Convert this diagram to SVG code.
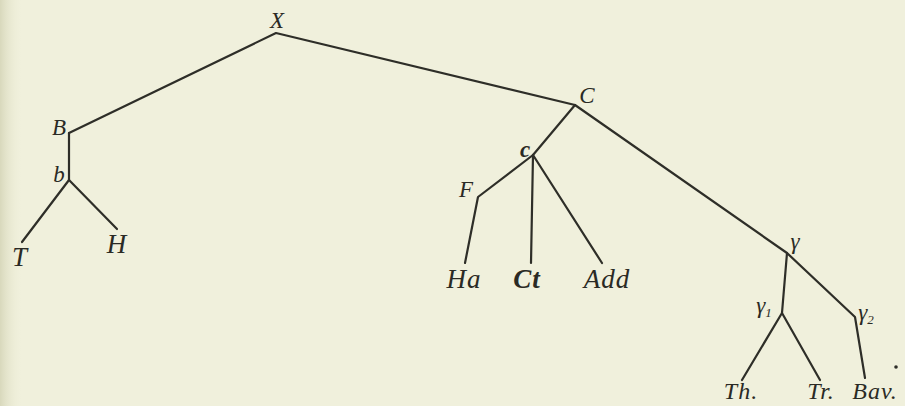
<svg xmlns="http://www.w3.org/2000/svg" width="905" height="406" viewBox="0 0 905 406">
<defs>
<linearGradient id="edge" x1="0" y1="0" x2="1" y2="0">
<stop offset="0" stop-color="#d8d8bc"/>
<stop offset="1" stop-color="#efefd9" stop-opacity="0"/>
</linearGradient>
<style>
.e{stroke:#2e2e28;stroke-width:2.2;fill:none;stroke-linecap:round;stroke-linejoin:round}
.t{font-family:"Liberation Serif","DejaVu Serif",serif;font-style:italic;font-size:23px;fill:#2a2a24;text-anchor:middle}
.l{font-size:27px;letter-spacing:1px}
.m{font-size:24px;letter-spacing:1px}
.s{font-size:23px}
</style>
</defs>
<rect width="905" height="406" fill="#f0f0dc"/>
<rect width="22" height="406" fill="url(#edge)"/>
<g id="connectors">
<polyline class="e" points="69,133 276,33 575,105 787,253 855,317 865,378"/>
<polyline class="e" points="69,133 69,180"/>
<polyline class="e" points="22,242 69,180 117,229"/>
<polyline class="e" points="575,105 533,155 478,197 465,263"/>
<polyline class="e" points="533,155 531,263"/>
<polyline class="e" points="533,155 602,263"/>
<polyline class="e" points="787,253 782,313"/>
<polyline class="e" points="742,380 782,313 820,380"/>
</g>
<g id="X"><text class="t" x="277" y="28">X</text></g>
<g id="B"><text class="t" x="59" y="135">B</text></g>
<g id="b"><text class="t" x="59" y="182">b</text></g>
<g id="T"><text class="t l" x="20" y="266">T</text></g>
<g id="H"><text class="t l" x="117" y="253">H</text></g>
<g id="C"><text class="t" x="587" y="103">C</text></g>
<g id="c"><text class="t" x="525" y="157" style="font-weight:bold">c</text></g>
<g id="F"><text class="t" x="466" y="197">F</text></g>
<g id="Ha"><text class="t l" x="464" y="288">Ha</text></g>
<g id="Ct"><text class="t l" x="527" y="288" style="font-weight:bold">Ct</text></g>
<g id="Add"><text class="t l" x="607" y="288">Add</text></g>
<g id="gamma"><text class="t s" x="795" y="249">γ</text></g>
<g id="gamma1"><text class="t s" x="764" y="313">γ<tspan font-size="13" dy="4">1</tspan></text></g>
<g id="gamma2"><text class="t s" x="866" y="320">γ<tspan font-size="13" dy="4">2</tspan></text></g>
<g id="Th"><text class="t m" x="741" y="399">Th.</text></g>
<g id="Tr"><text class="t m" x="821" y="399">Tr.</text></g>
<g id="Bav"><text class="t m" x="875" y="399">Bav.</text></g>
<circle cx="896" cy="367" r="1.8" fill="#2e2e28"/>
</svg>
